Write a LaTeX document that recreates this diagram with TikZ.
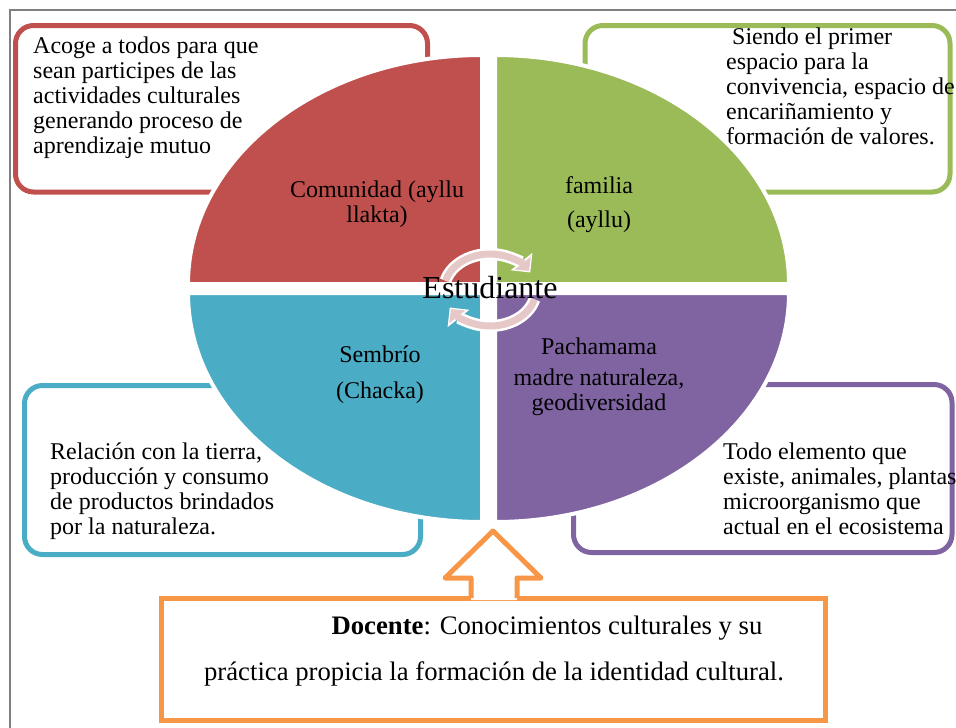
\documentclass[tikz,border=0pt]{standalone}
\usepackage{fontspec}
\setmainfont{Liberation Serif}
\usetikzlibrary{arrows.meta}
\definecolor{rojo}{HTML}{C0504D}
\definecolor{verde}{HTML}{9BBB59}
\definecolor{azul}{HTML}{4BACC6}
\definecolor{morado}{HTML}{8064A2}
\definecolor{naranja}{HTML}{F79646}
\definecolor{rosa}{HTML}{E6C8C8}
\newcommand{\cuarto}[5]{
	\filldraw[fill=#1, draw=white, line width=4pt](#2,#3)--++(#4:294 and 229) arc[start angle=#4, end angle=#5, x radius=294, y radius=229]--cycle
}

\begin{document}
\begin{tikzpicture}[x=1pt, y=-1pt,
		caja/.style={line width=5pt, rounded corners=18pt},
		texto/.style={font=\fontsize{24}{25}\selectfont, align=left, inner sep=0pt, anchor=north west},
		rotulo/.style={font=\fontsize{24}{25}\selectfont, align=center, inner sep=0pt, anchor=north}]
		\useasboundingbox (0,0) rectangle (956,728);
		\draw[gray, line width=1.5pt](10,728)--(10,10)--(956,10);
		\draw[caja, rojo](15.5,25.5) rectangle (427.5,192);
		\draw[caja, verde](585,25.5) rectangle (950,192);
		\draw[caja, azul](24.5,385.5) rectangle (420.5,554.5);
		\draw[caja, morado](573.5,384.5) rectangle (952,552.5);
		\node[texto](tcomunidad) at (33,37){Acoge a todos para que\\sean participes de las\\actividades culturales\\generando proceso de\\aprendizaje mutuo};
		\node[texto](tfamilia) at (726,28){\hspace*{6pt}Siendo el primer\\espacio para la\\convivencia, espacio de\\encariñamiento y\\formación de valores.};
		\node[texto](tsembrio) at (50,443){Relación con la tierra,\\producción y consumo\\de productos brindados\\por la naturaleza.};
		\node[texto](tpacha) at (723,443){Todo elemento que\\existe, animales, plantas\\microorganismo que\\actual en el ecosistema};
		\cuarto{rojo}{482}{284}{180}{270};
		\cuarto{verde}{495}{284}{270}{360};
		\cuarto{azul}{482}{293}{180}{90};
		\cuarto{morado}{495}{293}{0}{90};
		\node[rotulo](comunidad) at (377,181){Comunidad (ayllu\\llakta)};
		\node[rotulo](familia) at (599,176){familia\\[9pt](ayllu)};
		\node[rotulo](sembrio) at (380,346){Sembrío\\[11pt](Chacka)};
		\node[rotulo](pachamama) at (599,338){Pachamama\\[6pt]madre naturaleza,\\geodiversidad};
		% flechas circulares
		\foreach \a/\b in {195/328, 15/148}{
			\draw[white, line width=12pt, shorten >=-2pt, -{Triangle[length=14pt, width=27pt]}](490,290)++(\a:46 and 36) arc[start angle=\a, end angle=\b, x radius=46, y radius=36];
			\draw[rosa, line width=7pt, -{Triangle[length=10pt, width=20pt]}](490,290)++(\a:46 and 36) arc[start angle=\a, end angle=\b, x radius=46, y radius=36];
		}
		\node[font=\fontsize{32}{36}\selectfont, inner sep=0pt, anchor=base](estudiante) at (490,298){Estudiante};
		% docente
		\node[draw=naranja, line width=5pt, minimum width=664pt, minimum height=122pt, inner sep=0pt](docente) at (493,659){};
		\fill[white](471,600)--(471,578)--(445,578)--(493,531)--(541,578)--(517,578)--(517,600)--cycle;
		\draw[naranja, line width=5pt, line join=round](471,598)--(471,578)--(445,578)--(493,531)--(541,578)--(517,578)--(517,598);
		\node[font=\fontsize{26.7}{46}\selectfont, align=center, inner sep=0pt, anchor=north](tdocente) at (494,616){\hspace*{106pt}\textbf{Docente}: Conocimientos culturales y su\\práctica propicia la formación de la identidad cultural.};
	\end{tikzpicture}
\end{document}
